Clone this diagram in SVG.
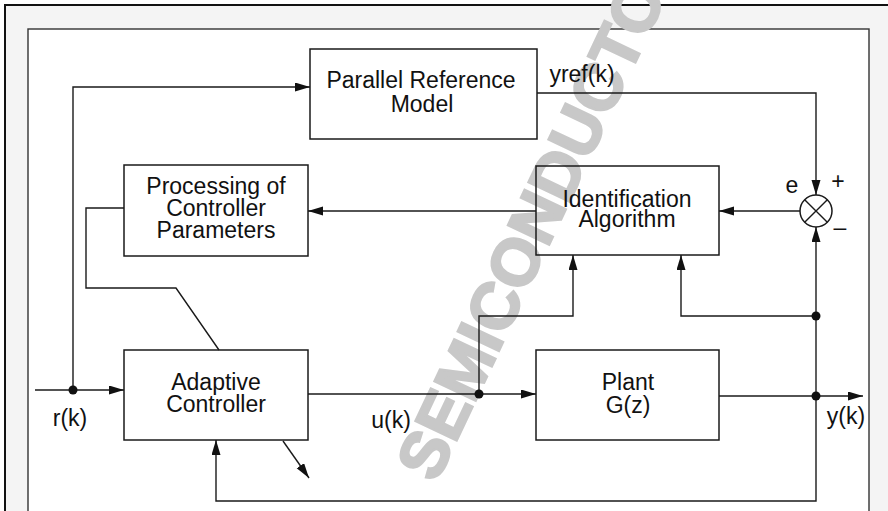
<svg xmlns="http://www.w3.org/2000/svg" width="888" height="511" viewBox="0 0 888 511">
<defs>
<style>
.box{fill:none;stroke:#1a1a1a;stroke-width:1.5}
.ln{fill:none;stroke:#1a1a1a;stroke-width:1.4}
.t{font-family:"Liberation Sans",Arial,sans-serif;font-size:23px;fill:#111;text-anchor:middle}
.wm{font-family:"Liberation Sans",Arial,sans-serif;font-size:66px;font-weight:bold;fill:#c8c8c8;stroke:#c8c8c8;stroke-width:2.5}
.dot{fill:#111}
</style>
<marker id="ah" markerUnits="userSpaceOnUse" markerWidth="16" markerHeight="10" refX="15" refY="4.5" orient="auto">
<path d="M0,0 L15,4.5 L0,9 Z" fill="#111"/>
</marker>
</defs>
<g id="frame">
<rect x="5" y="5" width="890" height="520" fill="#f4f4f4" stroke="#111" stroke-width="2"/>
<rect x="28" y="29" width="841" height="500" fill="#fff" stroke="#333" stroke-width="1.4"/>
</g>
<g id="watermark">
<text class="wm" transform="translate(436,484) rotate(-64.7)">SEMICONDUCTOR</text>
</g>
<g id="connectors">
<path class="ln" d="M35,390 H124" marker-end="url(#ah)"/>
<path class="ln" d="M73,390 V87 H310" marker-end="url(#ah)"/>
<path class="ln" d="M124,208 H86 V288 H176 L219,350"/>
<path class="ln" d="M283,441 L309,478" marker-end="url(#ah)"/>
<path class="ln" d="M308,394 H536" marker-end="url(#ah)"/>
<path class="ln" d="M479,394 V316 H573 V255" marker-end="url(#ah)"/>
<path class="ln" d="M719,396 H863" marker-end="url(#ah)"/>
<path class="ln" d="M816,396 V501 H216 V440" marker-end="url(#ah)"/>
<path class="ln" d="M816,396 V227" marker-end="url(#ah)"/>
<path class="ln" d="M816,316 H681 V255" marker-end="url(#ah)"/>
<path class="ln" d="M537,93 H816 V195" marker-end="url(#ah)"/>
<path class="ln" d="M800,211 H719" marker-end="url(#ah)"/>
<path class="ln" d="M536,211 H308" marker-end="url(#ah)"/>
<circle class="dot" cx="73" cy="390" r="4.5"/>
<circle class="dot" cx="479" cy="394" r="4.5"/>
<circle class="dot" cx="816" cy="396" r="4.5"/>
<circle class="dot" cx="816" cy="316" r="4.5"/>
<text class="t" x="70" y="426">r(k)</text>
<text class="t" x="391" y="428">u(k)</text>
<text class="t" x="846" y="424">y(k)</text>
<text class="t" x="582" y="82">yref(k)</text>
</g>
<g id="parallel-reference-model">
<rect class="box" x="310" y="49" width="227" height="90"/>
<text class="t" x="421" y="88">Parallel Reference</text>
<text class="t" x="422" y="112">Model</text>
</g>
<g id="processing">
<rect class="box" x="124" y="165" width="184" height="91"/>
<text class="t" x="216" y="194">Processing of</text>
<text class="t" x="216" y="216">Controller</text>
<text class="t" x="216" y="238">Parameters</text>
</g>
<g id="identification">
<rect class="box" x="536" y="166" width="183" height="89"/>
<text class="t" x="627" y="207">Identification</text>
<text class="t" x="627" y="227">Algorithm</text>
</g>
<g id="adaptive-controller">
<rect class="box" x="124" y="350" width="184" height="90"/>
<text class="t" x="216" y="390">Adaptive</text>
<text class="t" x="216" y="412">Controller</text>
</g>
<g id="plant">
<rect class="box" x="536" y="350" width="183" height="90"/>
<text class="t" x="628" y="390">Plant</text>
<text class="t" x="628" y="413">G(z)</text>
</g>
<g id="summing-junction">
<circle cx="816" cy="211" r="16" fill="none" stroke="#1a1a1a" stroke-width="1.5"/>
<path class="ln" d="M804.7,199.7 L827.3,222.3 M827.3,199.7 L804.7,222.3"/>
<text class="t" x="792" y="193">e</text>
<text class="t" x="838" y="189">+</text>
<text class="t" x="840" y="235">–</text>
</g>
</svg>
